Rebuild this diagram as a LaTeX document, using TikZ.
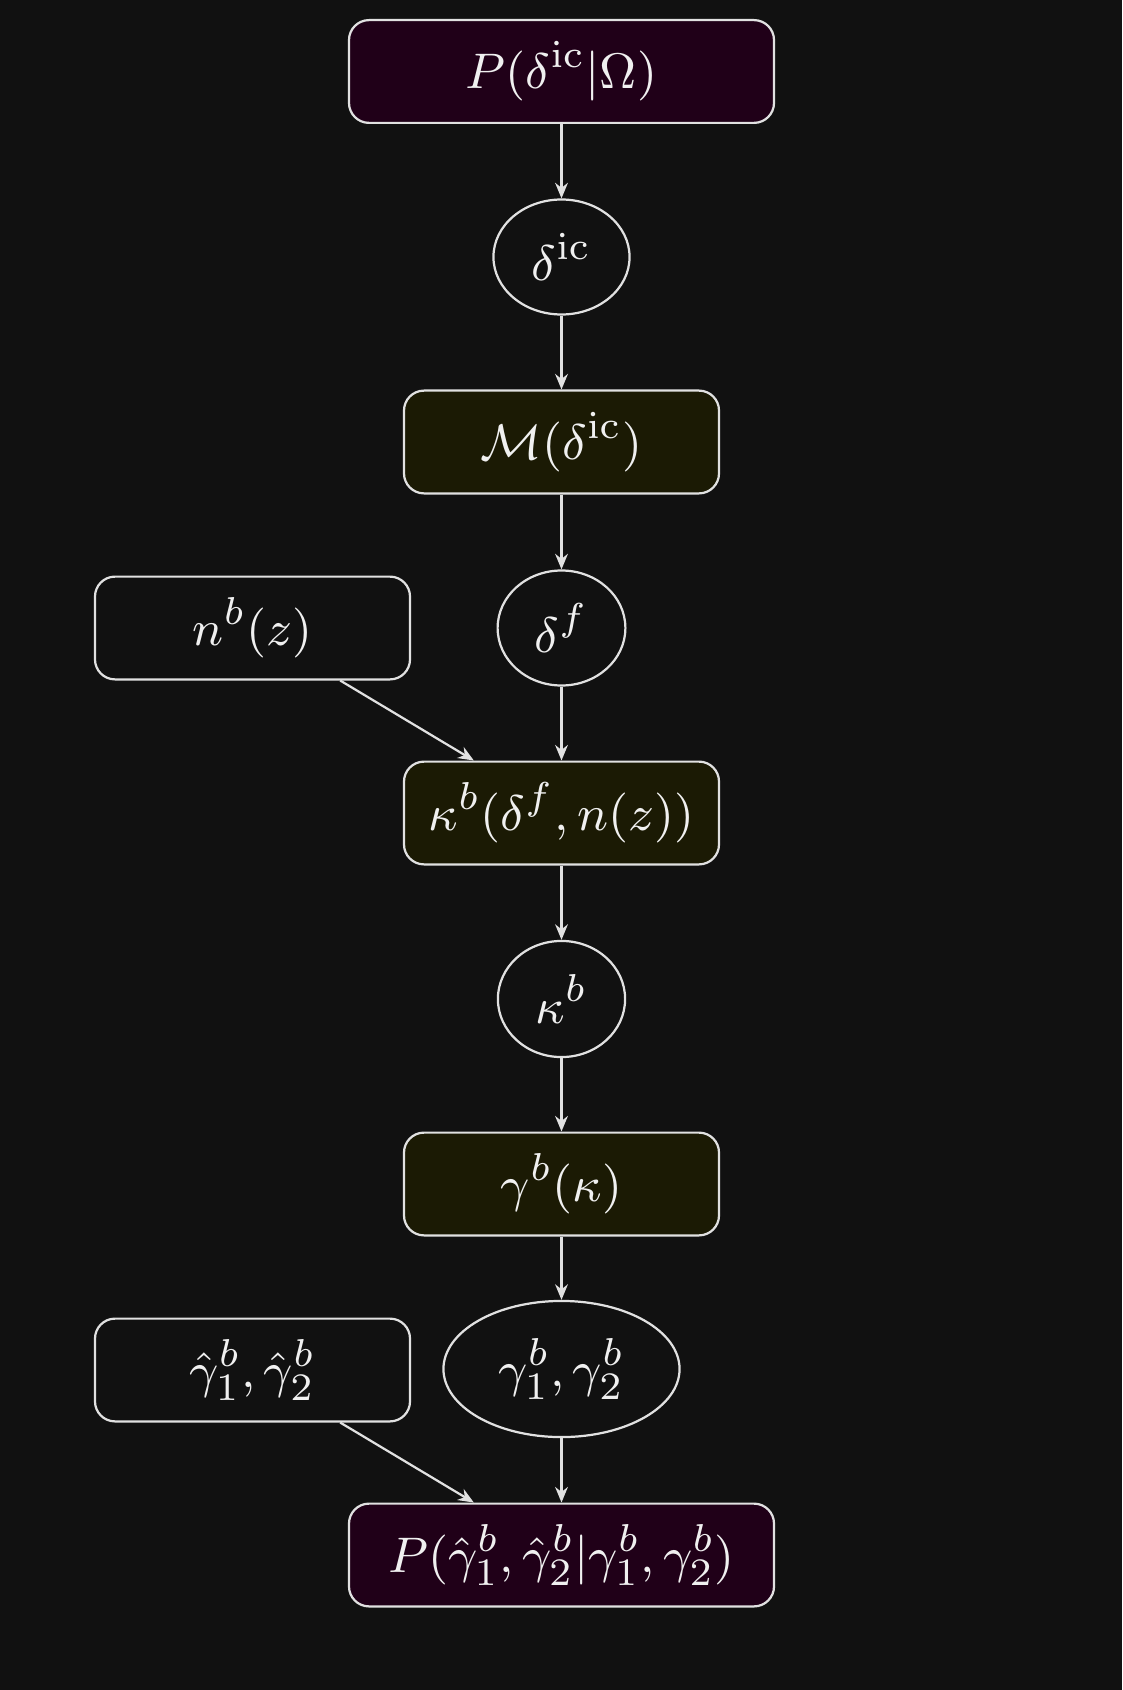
\documentclass[tikz,border=0pt]{standalone}
\usetikzlibrary{shapes.geometric,arrows.meta}
\definecolor{bg}{RGB}{17,17,17}
\definecolor{purp}{RGB}{32,0,24}
\definecolor{oliv}{RGB}{27,26,4}
\definecolor{edge}{RGB}{225,225,225}
\definecolor{txt}{RGB}{240,240,240}
\begin{document}
\begin{tikzpicture}[x=0.18pt,y=-0.18pt,
  base/.style={draw=edge,line width=0.4pt,text=txt,inner sep=0pt,font=\fontsize{9.5}{11}\selectfont},
  bigbox/.style={base,rounded corners=3.6pt,minimum width=76.5pt,minimum height=18.5pt,fill=purp},
  midbox/.style={base,rounded corners=3.6pt,minimum width=56.7pt,minimum height=18.5pt,fill=oliv},
  sidebox/.style={base,rounded corners=3.6pt,minimum width=56.7pt,minimum height=18.5pt,fill=bg},
  var/.style={base,ellipse,fill=bg},
  arr/.style={draw=edge,line width=0.4pt,-{Stealth[length=2.8pt,width=2.3pt]}}]
\fill[bg] (0,0) rectangle (1122,1690);
\useasboundingbox (0,0) rectangle (1122,1690);
\node[bigbox] (prior) at (561.5,71.5) {$P(\delta^{\rm ic}|\Omega)$};
\node[var,minimum width=24.5pt,minimum height=20.7pt] (dic) at (561.5,257) {$\delta^{\rm ic}$};
\node[midbox] (M) at (561.5,442) {$\mathcal{M}(\delta^{\rm ic})$};
\node[var,minimum width=23pt,minimum height=20.7pt] (df) at (561.5,628) {$\delta^{f}$};
\node[sidebox] (n) at (252.5,628) {$n^b(z)$};
\node[midbox] (kap) at (561.5,813) {$\kappa^b(\delta^f,n(z))$};
\node[var,minimum width=22.9pt,minimum height=20.9pt] (kb) at (561.5,999) {$\kappa^b$};
\node[midbox] (gam) at (561.5,1184) {$\gamma^b(\kappa)$};
\node[var,minimum width=42.5pt,minimum height=24.5pt] (g12) at (561.5,1369) {$\gamma^b_1,\gamma^b_2$};
\node[sidebox] (gh) at (252.5,1370) {$\hat\gamma^b_1,\hat\gamma^b_2$};
\node[bigbox] (like) at (561.5,1555) {$P(\hat\gamma^b_1,\hat\gamma^b_2|\gamma^b_1,\gamma^b_2)$};
\draw[arr] (prior) -- (dic);
\draw[arr] (dic) -- (M);
\draw[arr] (M) -- (df);
\draw[arr] (df) -- (kap);
\draw[arr] (n) -- (kap);
\draw[arr] (kap) -- (kb);
\draw[arr] (kb) -- (gam);
\draw[arr] (gam) -- (g12);
\draw[arr] (g12) -- (like);
\draw[arr] (gh) -- (like);
\end{tikzpicture}
\end{document}
